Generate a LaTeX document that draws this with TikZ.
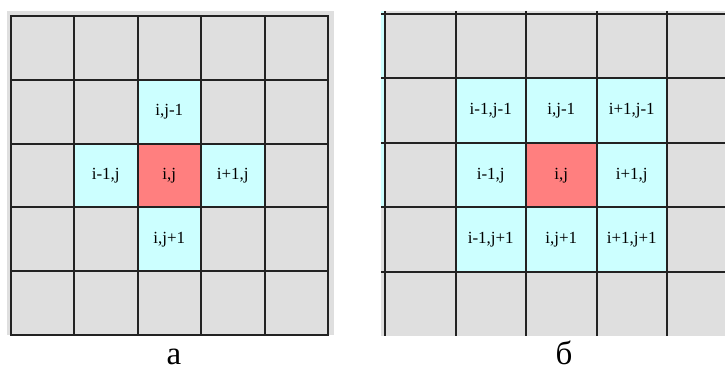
\documentclass[tikz,border=0pt]{standalone}
\usepackage{fontspec}
\setmainfont{Liberation Serif}
\definecolor{cellgray}{RGB}{223,223,223}
\definecolor{cellcyan}{RGB}{204,255,255}
\definecolor{cellred}{RGB}{255,127,127}
\definecolor{gridink}{RGB}{34,34,34}
\tikzset{
    lab/.style={
        font=\fontsize{33}{38}\selectfont
    }
}

\begin{document}
\begin{tikzpicture}[x=1pt,y=-1pt, line cap=rect, line join=miter]

\tikzset{
  gridln/.style={draw=gridink, line width=2pt},
  acell/.style={minimum width=63.5pt, minimum height=63.8pt, inner sep=0pt, font=\fontsize{17}{19}\selectfont},
  bcell/.style={minimum width=70.5pt, minimum height=64.5pt, inner sep=0pt, font=\fontsize{17}{19}\selectfont},
  nbr/.style={fill=cellcyan},
  ctr/.style={fill=cellred},
}

\useasboundingbox (0,0) rectangle (725,371);

% backgrounds
\fill[cellgray] (7,11) rectangle (334,335);
\fill[cellgray] (381,11) rectangle (725,336);
\fill[cellcyan] (381,11) rectangle (385,207.5);

% left grid (a): 4 neighbours
\node[acell, ctr] (a-c) at (169.25,175.5) {i,j};
\node[acell, nbr] (a-n) at (169.25,111.7) {i,j-1};
\node[acell, nbr] (a-w) at (105.75,175.5) {i-1,j};
\node[acell, nbr] (a-e) at (232.75,175.5) {i+1,j};
\node[acell, nbr] (a-s) at (169.25,239.3) {i,j+1};

\foreach \k in {0,...,5} {
  \draw[gridln] (10.5+63.5*\k,16) -- (10.5+63.5*\k,335);
  \draw[gridln] (10.5,16+63.8*\k) -- (328,16+63.8*\k);
}

% right grid (b): 8 neighbours
\node[bcell, ctr] (b-c) at (561.25,175.25) {i,j};
\node[bcell, nbr] (b-nw) at (490.75,110.75) {i-1,j-1};
\node[bcell, nbr] (b-n) at (561.25,110.75) {i,j-1};
\node[bcell, nbr] (b-ne) at (631.75,110.75) {i+1,j-1};
\node[bcell, nbr] (b-w) at (490.75,175.25) {i-1,j};
\node[bcell, nbr] (b-e) at (631.75,175.25) {i+1,j};
\node[bcell, nbr] (b-sw) at (490.75,239.75) {i-1,j+1};
\node[bcell, nbr] (b-s) at (561.25,239.75) {i,j+1};
\node[bcell, nbr] (b-se) at (631.75,239.75) {i+1,j+1};

\foreach \k in {0,...,4} {
  \draw[gridln, line cap=butt] (385+70.5*\k,11) -- (385+70.5*\k,336);
  \draw[gridln, line cap=butt] (381,14+64.5*\k) -- (725,14+64.5*\k);
}

% captions
\node[lab, anchor=base, inner sep=0pt] (cap-a) at (174,364) {а};
\node[lab, anchor=base, inner sep=0pt] (cap-b) at (564,364) {б};

\end{tikzpicture}
\end{document}
